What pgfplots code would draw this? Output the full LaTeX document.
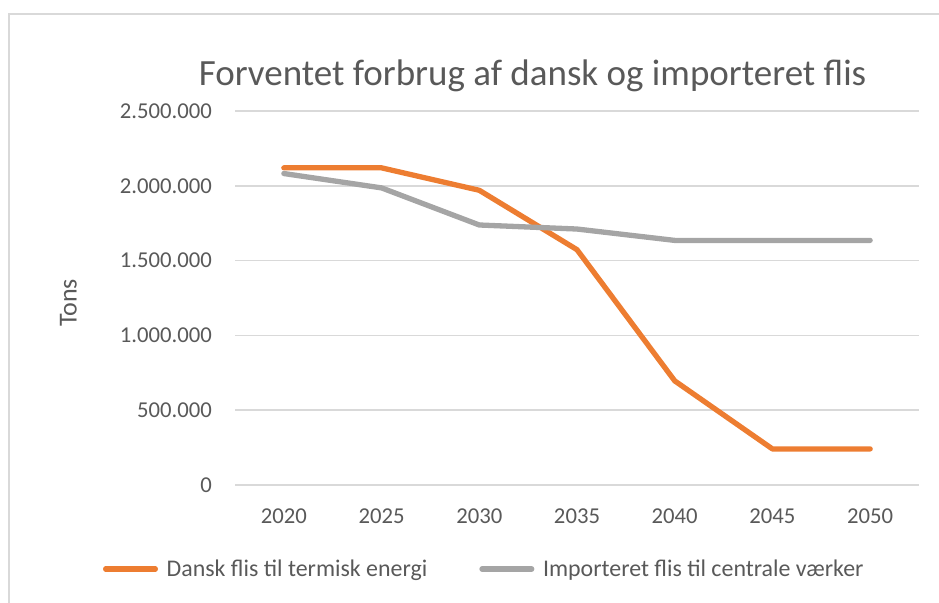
\documentclass[border=0pt]{standalone}
\usepackage{pgfplots}
\pgfplotsset{compat=1.18}
\usepackage{fontspec}
\setmainfont{Carlito}
\definecolor{exorange}{HTML}{ED7D31}
\definecolor{exgray}{HTML}{A5A5A5}
\definecolor{extext}{HTML}{595959}
\definecolor{exgrid}{HTML}{D9D9D9}
\begin{document}
\begin{tikzpicture}[x=1pt,y=1pt]
\useasboundingbox (0,0) rectangle (939,602);
\draw[exgrid, line width=1.5pt] (9,-5) -- (9,588) -- (945,588);
\node[anchor=base, font=\fontsize{37}{44}\selectfont, text=extext, inner sep=0pt] at (532.5,516) {Forventet forbrug af dansk og importeret flis};
\node[rotate=90, font=\fontsize{26}{31}\selectfont, text=extext, inner sep=0pt] at (68.5,299) {Tons};
\begin{axis}[
  at={(235pt,117pt)}, anchor=south west,
  scale only axis, width=684pt, height=374pt,
  xmin=-0.5, xmax=6.5, ymin=0, ymax=2500000,
  xtick={0,1,2,3,4,5,6},
  xticklabels={2020,2025,2030,2035,2040,2045,2050},
  ytick={0,500000,1000000,1500000,2000000,2500000},
  scaled y ticks=false,
  /pgf/number format/fixed,
  /pgf/number format/precision=0,
  /pgf/number format/1000 sep={.},
  /pgf/number format/assume math mode=true,
  xticklabel style={inner sep=0pt, anchor=north, yshift=-24pt},
  yticklabel style={inner sep=0pt, anchor=east, xshift=-23pt},
  tick label style={font=\fontsize{22.7}{27}\selectfont, text=extext},
  major tick length=0pt,
  axis line style={draw=none},
  ymajorgrids, grid style={exgrid, line width=1.5pt},
  clip=false,
  legend columns=2,
  legend style={draw=none, fill=none, inner sep=0pt, outer sep=0pt,
    at={(-0.19298,-0.2246)}, anchor=west,
    font=\fontsize{23.9}{28}\selectfont, text=extext,
    nodes={inner sep=0pt, outer sep=0pt}},
  legend image code/.code={\draw[#1, line cap=round] (2.65pt,0pt) -- (52.35pt,0pt); \path (61pt,0pt);},
]
\addplot[exorange, line width=5.3pt, line cap=round, line join=round] coordinates {
(0,2120000) (1,2120000) (2,1970000) (3,1573000) (4,696000) (5,241000) (6,241000)};
\addlegendentry{\makebox[312.7pt][l]{Dansk flis til termisk energi}}
\addplot[exgray, line width=5.3pt, line cap=round, line join=round] coordinates {
(0,2082000) (1,1986000) (2,1738000) (3,1711000) (4,1635000) (5,1635000) (6,1635000)};
\addlegendentry{Importeret flis til centrale værker}
\end{axis}
\end{tikzpicture}
\end{document}
